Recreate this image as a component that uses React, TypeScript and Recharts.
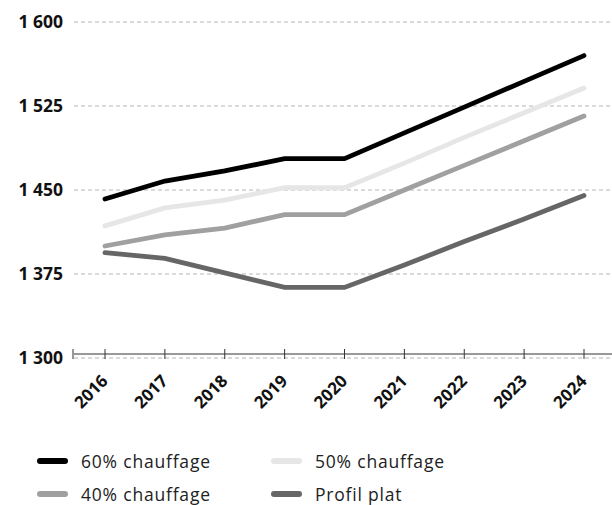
import React from 'react';
import { LineChart, Line, XAxis, YAxis, CartesianGrid } from 'recharts';

const years = ['2016', '2017', '2018', '2019', '2020', '2021', '2022', '2023', '2024'];
const heat60 = [1442, 1458, 1467, 1478, 1478, 1501, 1524, 1547, 1570];
const heat50 = [1418, 1434, 1441, 1452, 1452, 1474, 1497, 1519, 1541];
const heat40 = [1400, 1410, 1416, 1428, 1428, 1450, 1472, 1494, 1516];
const flat = [1394, 1389, 1376, 1363, 1363, 1383, 1404, 1424, 1445];
const yTicks = [1300, 1375, 1450, 1525, 1600];

const series = [
  { key: 'heat60', name: '60% chauffage', color: '#000000' },
  { key: 'heat50', name: '50% chauffage', color: '#e6e6e6' },
  { key: 'heat40', name: '40% chauffage', color: '#a0a0a0' },
  { key: 'flat', name: 'Profil plat', color: '#666666' },
];

const data = years.map((year, i) => ({
  year,
  heat60: heat60[i],
  heat50: heat50[i],
  heat40: heat40[i],
  flat: flat[i],
}));

const FONT = '"Open Sans", sans-serif';
// the baseline sits a few px above the 1 300 gridline in the original
const AXIS_SHIFT = -4;

const fmt = (v: number) => {
  const s = String(v);
  return s.length > 3 ? s.slice(0, s.length - 3) + ' ' + s.slice(-3) : s;
};

const YTick = ({ x, y, payload }: any) => (
  <g>
    <text x={x} y={y} dy="0.35em" textAnchor="end" fontFamily={FONT} fontSize={17.5} fontWeight={700} fill="#111">
      {fmt(payload.value)}
    </text>
    {payload.value === 1300 && (
      <line x1={x + 10} x2={x + 10} y1={y + AXIS_SHIFT - 5} y2={y + AXIS_SHIFT + 5} stroke="#333" strokeWidth={1} />
    )}
  </g>
);

const XTick = ({ x, y, payload }: any) => {
  const ay = y + AXIS_SHIFT;
  const tx = x + 4;
  const ty = ay + 28;
  return (
    <g>
      <line x1={x} x2={x} y1={ay - 5} y2={ay + 5} stroke="#333" strokeWidth={1} />
      <text
        x={tx}
        y={ty}
        textAnchor="end"
        fontFamily={FONT}
        fontSize={17}
        fontWeight={700}
        fill="#111"
        transform={`rotate(-45, ${tx}, ${ty})`}
      >
        {payload.value}
      </text>
    </g>
  );
};

const legendRows = [
  [series[0], series[1]],
  [series[2], series[3]],
];

export default function App() {
  return (
    <div style={{ position: 'relative', width: 612, height: 505 }}>
      <style>{'body{margin:0}'}</style>
      <LineChart width={612} height={505} data={data} margin={{ top: 22, right: 0, left: 0, bottom: 87 }}>
        <CartesianGrid vertical={false} stroke="#b5b5b5" strokeDasharray="4 3" />
        <XAxis
          dataKey="year"
          height={60}
          axisLine={{ stroke: '#333', transform: `translate(0, ${AXIS_SHIFT})` }}
          padding={{ left: 31, right: 28 }}
          tickSize={0}
          tickMargin={0}
          tickLine={false}
          tick={<XTick />}
          interval={0}
        />
        <YAxis
          width={74}
          domain={[1300, 1600]}
          ticks={yTicks}
          axisLine={false}
          tickLine={false}
          tickSize={0}
          tickMargin={11}
          tick={<YTick />}
        />
        {series.map((s) => (
          <Line
            key={s.key}
            type="linear"
            dataKey={s.key}
            name={s.name}
            stroke={s.color}
            strokeWidth={4.8}
            strokeLinecap="round"
            dot={false}
            isAnimationActive={false}
          />
        ))}
      </LineChart>
      <div
        style={{
          position: 'absolute',
          left: 37,
          top: 444,
          fontFamily: FONT,
          fontSize: 17.5,
          letterSpacing: 0.8,
          color: '#222',
        }}
      >
        {legendRows.map((row, r) => (
          <div key={r} style={{ display: 'flex', height: 33, alignItems: 'center' }}>
            {row.map((s) => (
              <div key={s.key} style={{ display: 'flex', alignItems: 'center', width: 234 }}>
                <span
                  style={{ display: 'inline-block', width: 31, height: 6, borderRadius: 3, background: s.color, marginRight: 13 }}
                />
                <span>{s.name}</span>
              </div>
            ))}
          </div>
        ))}
      </div>
    </div>
  );
}
